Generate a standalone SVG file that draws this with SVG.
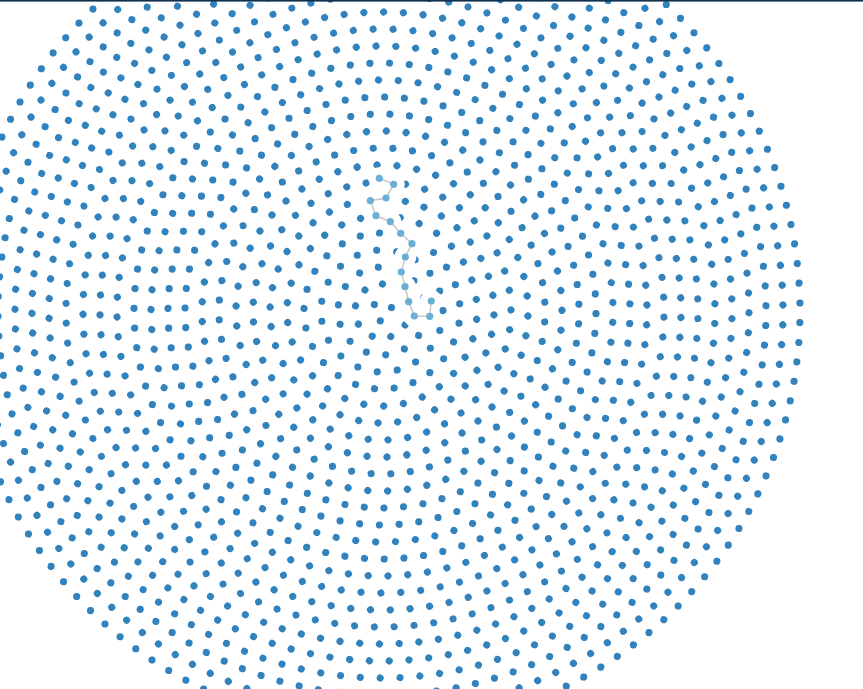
<svg xmlns="http://www.w3.org/2000/svg" width="863" height="689" viewBox="0 0 863 689">
<style>
.ring{fill:none;stroke:#3182bd;stroke-width:7.1;stroke-linecap:round;stroke-dasharray:0 1}
.halo{fill:#fff}
.link{stroke:#999;stroke-opacity:.55;stroke-width:1.5;fill:none}
.node circle{fill:#6baed6}
</style>
<rect width="863" height="689" fill="#fff"/>
<g id="other-nodes" transform="translate(382 311)">
<circle class="ring" r="418" pathLength="133" transform="rotate(7)"/>
<circle class="ring" r="401" pathLength="127" transform="rotate(53)"/>
<circle class="ring" r="384" pathLength="122" transform="rotate(191)"/>
<circle class="ring" r="367" pathLength="116" transform="rotate(22)"/>
<circle class="ring" r="350" pathLength="111" transform="rotate(118)"/>
<circle class="ring" r="333" pathLength="106" transform="rotate(301)"/>
<circle class="ring" r="316" pathLength="100" transform="rotate(77)"/>
<circle class="ring" r="299" pathLength="95" transform="rotate(240)"/>
<circle class="ring" r="282" pathLength="89" transform="rotate(159)"/>
<circle class="ring" r="265" pathLength="84" transform="rotate(333)"/>
<circle class="ring" r="248" pathLength="79" transform="rotate(12)"/>
<circle class="ring" r="231" pathLength="73" transform="rotate(205)"/>
<circle class="ring" r="214" pathLength="68" transform="rotate(96)"/>
<circle class="ring" r="197" pathLength="63" transform="rotate(278)"/>
<circle class="ring" r="180" pathLength="57" transform="rotate(44)"/>
<circle class="ring" r="163" pathLength="52" transform="rotate(170)"/>
<circle class="ring" r="146" pathLength="46" transform="rotate(315)"/>
<circle class="ring" r="129" pathLength="41" transform="rotate(61)"/>
<circle class="ring" r="112" pathLength="36" transform="rotate(222)"/>
<circle class="ring" r="95" pathLength="30" transform="rotate(137)"/>
<circle class="ring" r="78" pathLength="25" transform="rotate(9)"/>
<circle class="ring" r="61" pathLength="19" transform="rotate(265)"/>
<circle class="ring" r="44" pathLength="14" transform="rotate(188)"/>
<circle class="ring" r="27" pathLength="9" transform="rotate(31)"/>
<circle class="ring" r="10" pathLength="3" transform="rotate(100)"/>
</g>
<g id="halos">
<circle class="halo" cx="379.3" cy="178.3" r="11"/>
<circle class="halo" cx="393.7" cy="184.3" r="11"/>
<circle class="halo" cx="386" cy="198" r="11"/>
<circle class="halo" cx="370.3" cy="200.7" r="11"/>
<circle class="halo" cx="376" cy="215.7" r="11"/>
<circle class="halo" cx="390.3" cy="221.7" r="11"/>
<circle class="halo" cx="400.7" cy="233.3" r="11"/>
<circle class="halo" cx="412" cy="243.7" r="11"/>
<circle class="halo" cx="405.3" cy="257" r="11"/>
<circle class="halo" cx="401.3" cy="272" r="11"/>
<circle class="halo" cx="405" cy="286.7" r="11"/>
<circle class="halo" cx="408.7" cy="301.7" r="11"/>
<circle class="halo" cx="414.3" cy="316" r="11"/>
<circle class="halo" cx="429.7" cy="316.3" r="11"/>
<circle class="halo" cx="431.3" cy="301" r="11"/>
</g>
<g id="links">
<polyline class="link" points="379.3,178.3 393.7,184.3 386,198 370.3,200.7 376,215.7 390.3,221.7 400.7,233.3 412,243.7 405.3,257 401.3,272 405,286.7 408.7,301.7 414.3,316 429.7,316.3 431.3,301"/>
</g>
<g class="node" id="n1"><circle cx="379.3" cy="178.3" r="3.6"/></g>
<g class="node" id="n2"><circle cx="393.7" cy="184.3" r="3.6"/></g>
<g class="node" id="n3"><circle cx="386" cy="198" r="3.6"/></g>
<g class="node" id="n4"><circle cx="370.3" cy="200.7" r="3.6"/></g>
<g class="node" id="n5"><circle cx="376" cy="215.7" r="3.6"/></g>
<g class="node" id="n6"><circle cx="390.3" cy="221.7" r="3.6"/></g>
<g class="node" id="n7"><circle cx="400.7" cy="233.3" r="3.6"/></g>
<g class="node" id="n8"><circle cx="412" cy="243.7" r="3.6"/></g>
<g class="node" id="n9"><circle cx="405.3" cy="257" r="3.6"/></g>
<g class="node" id="n10"><circle cx="401.3" cy="272" r="3.6"/></g>
<g class="node" id="n11"><circle cx="405" cy="286.7" r="3.6"/></g>
<g class="node" id="n12"><circle cx="408.7" cy="301.7" r="3.6"/></g>
<g class="node" id="n13"><circle cx="414.3" cy="316" r="3.6"/></g>
<g class="node" id="n14"><circle cx="429.7" cy="316.3" r="3.6"/></g>
<g class="node" id="n15"><circle cx="431.3" cy="301" r="3.6"/></g>
<rect x="0" y="0" width="863" height="1.6" fill="#10304f"/>
</svg>
